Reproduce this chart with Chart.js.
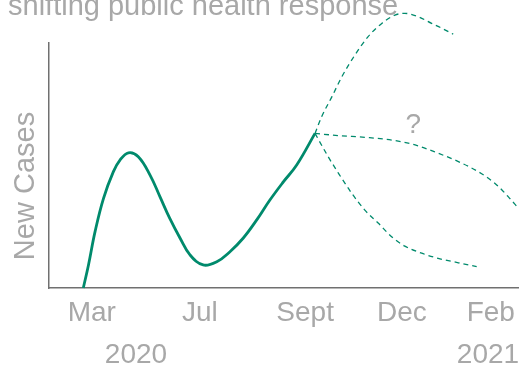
<!DOCTYPE html>
<html>
<head>
<meta charset="utf-8">
<script src="https://cdn.jsdelivr.net/npm/chart.js@4"></script>
<style>
  html, body { margin: 0; padding: 0; background: #fff; }
  #wrap { width: 519px; height: 369px; position: relative; }
</style>
</head>
<body>
<div id="wrap"><canvas id="casesChart"></canvas></div>
<script>
// x runs 0..100 across the plot, y runs 0..100 up the plot
const monthLabels = ['Mar', 'Jul', 'Sept', 'Dec', 'Feb'];
const monthTicks = [9.1, 32.1, 54.5, 75.1, 94.0];
const yearLabels = ['2020', '2021'];
const yearTicks = [18.5, 93.4];

const observedX = [7.3, 8.4, 9.8, 11.6, 13.7, 15.1, 16.9, 19.0, 21.5, 23.6, 25.7, 27.9, 30.0, 32.8, 35.7, 38.5, 41.3, 44.2, 47.0, 49.9, 52.7, 56.6];
const observedY = [0, 9.4, 23.0, 36.6, 47.5, 52.2, 55.2, 53.6, 46.1, 37.3, 28.4, 20.3, 13.5, 9.4, 10.7, 14.8, 20.3, 27.8, 35.9, 43.4, 50.2, 63.1];

const upperX = [56.6, 58.0, 60.2, 62.3, 65.1, 67.9, 70.8, 73.6, 75.7, 78.6, 81.4, 83.6, 86.0];
const upperY = [63.1, 69.9, 78.1, 86.2, 95.1, 102.6, 108.0, 111.4, 112.1, 110.7, 108.0, 106.0, 103.6];

const middleX = [56.6, 61.6, 67.2, 72.9, 77.9, 82.8, 87.1, 91.3, 94.9, 97.7, 99.9];
const middleY = [63.1, 62.2, 61.5, 60.4, 58.4, 55.0, 51.6, 47.5, 42.7, 37.3, 32.5];

const lowerX = [56.6, 59.4, 61.6, 64.4, 67.2, 70.1, 72.9, 75.7, 79.3, 82.8, 87.1, 91.0];
const lowerY = [63.1, 53.6, 46.8, 38.7, 31.8, 26.4, 20.9, 17.1, 14.2, 12.1, 10.3, 8.7];

const unknownMark = { x: 77.5, y: 66.5, text: '?' };

const green = '#008a6c';
const grey = '#a8a8a8';
const axisGrey = '#707070';
const font = '"Liberation Sans", Arial, sans-serif';

function points(xs, ys) {
    return xs.map((x, i) => ({ x: x, y: ys[i] }));
}

function scenario(xs, ys) {
    return {
        data: points(xs, ys),
        borderColor: green,
        borderWidth: 1.3,
        borderDash: [5, 4],
        pointRadius: 0,
        cubicInterpolationMode: 'monotone',
        clip: false
    };
}

//fixed axis heights, no side padding for the outer labels
function fixHeight(h) {
    return axis => {
        axis.height = h;
        axis.paddingLeft = 0;
        axis.paddingRight = 0;
    };
}

//heading, axis title and the question mark
const extraText = {
    id: 'extraText',
    afterDraw(chart) {
        const ctx = chart.ctx;
        const area = chart.chartArea;
        ctx.save();
        ctx.fillStyle = grey;
        ctx.font = '29px ' + font;
        ctx.textAlign = 'left';
        ctx.textBaseline = 'alphabetic';
        ctx.fillText('shifting public health response', 8, 15);

        ctx.font = '28px ' + font;
        ctx.textAlign = 'center';
        ctx.textBaseline = 'middle';
        const qx = chart.scales.x.getPixelForValue(unknownMark.x);
        const qy = chart.scales.y.getPixelForValue(unknownMark.y);
        ctx.fillText(unknownMark.text, qx, qy);

        ctx.font = '29px ' + font;
        ctx.translate(26, area.bottom - 102);
        ctx.rotate(-Math.PI / 2);
        ctx.fillText('New Cases', 0, 0);
        ctx.restore();
    }
};

new Chart(document.getElementById('casesChart'), {
    type: 'line',
    data: {
        datasets: [
            {
                data: points(observedX, observedY),
                borderColor: green,
                borderWidth: 2.8,
                pointRadius: 0,
                tension: 0.4,
                clip: false
            },
            scenario(upperX, upperY),
            scenario(middleX, middleY),
            scenario(lowerX, lowerY)
        ]
    },
    options: {
        responsive: true,
        maintainAspectRatio: false,
        animation: false,
        devicePixelRatio: 1,
        layout: { padding: { top: 43, left: 0, right: 0, bottom: 0 } },
        plugins: {
            legend: { display: false },
            tooltip: { enabled: false }
        },
        scales: {
            x: {
                type: 'linear',
                min: 0,
                max: 100,
                grid: { display: false, drawTicks: false },
                border: { display: true, color: axisGrey, width: 1.5 },
                afterBuildTicks: axis => { axis.ticks = monthTicks.map(v => ({ value: v })); },
                afterFit: fixHeight(41),
                ticks: {
                    autoSkip: false,
                    maxRotation: 0,
                    padding: 8,
                    color: grey,
                    font: { family: font, size: 28, lineHeight: 1.2 },
                    callback: (value, i) => monthLabels[i]
                }
            },
            years: {
                type: 'linear',
                position: 'bottom',
                min: 0,
                max: 100,
                grid: { display: false, drawTicks: false },
                border: { display: false },
                afterBuildTicks: axis => { axis.ticks = yearTicks.map(v => ({ value: v })); },
                afterFit: fixHeight(40),
                ticks: {
                    autoSkip: false,
                    maxRotation: 0,
                    padding: 9,
                    color: grey,
                    font: { family: font, size: 28, lineHeight: 1.2 },
                    callback: (value, i) => yearLabels[i]
                }
            },
            y: {
                type: 'linear',
                min: 0,
                max: 100,
                grid: { display: false, drawTicks: false },
                border: { display: true, color: axisGrey, width: 1.5 },
                ticks: { display: false },
                afterFit: axis => { axis.width = 49; }
            }
        }
    },
    plugins: [extraText]
});
</script>
</body>
</html>
